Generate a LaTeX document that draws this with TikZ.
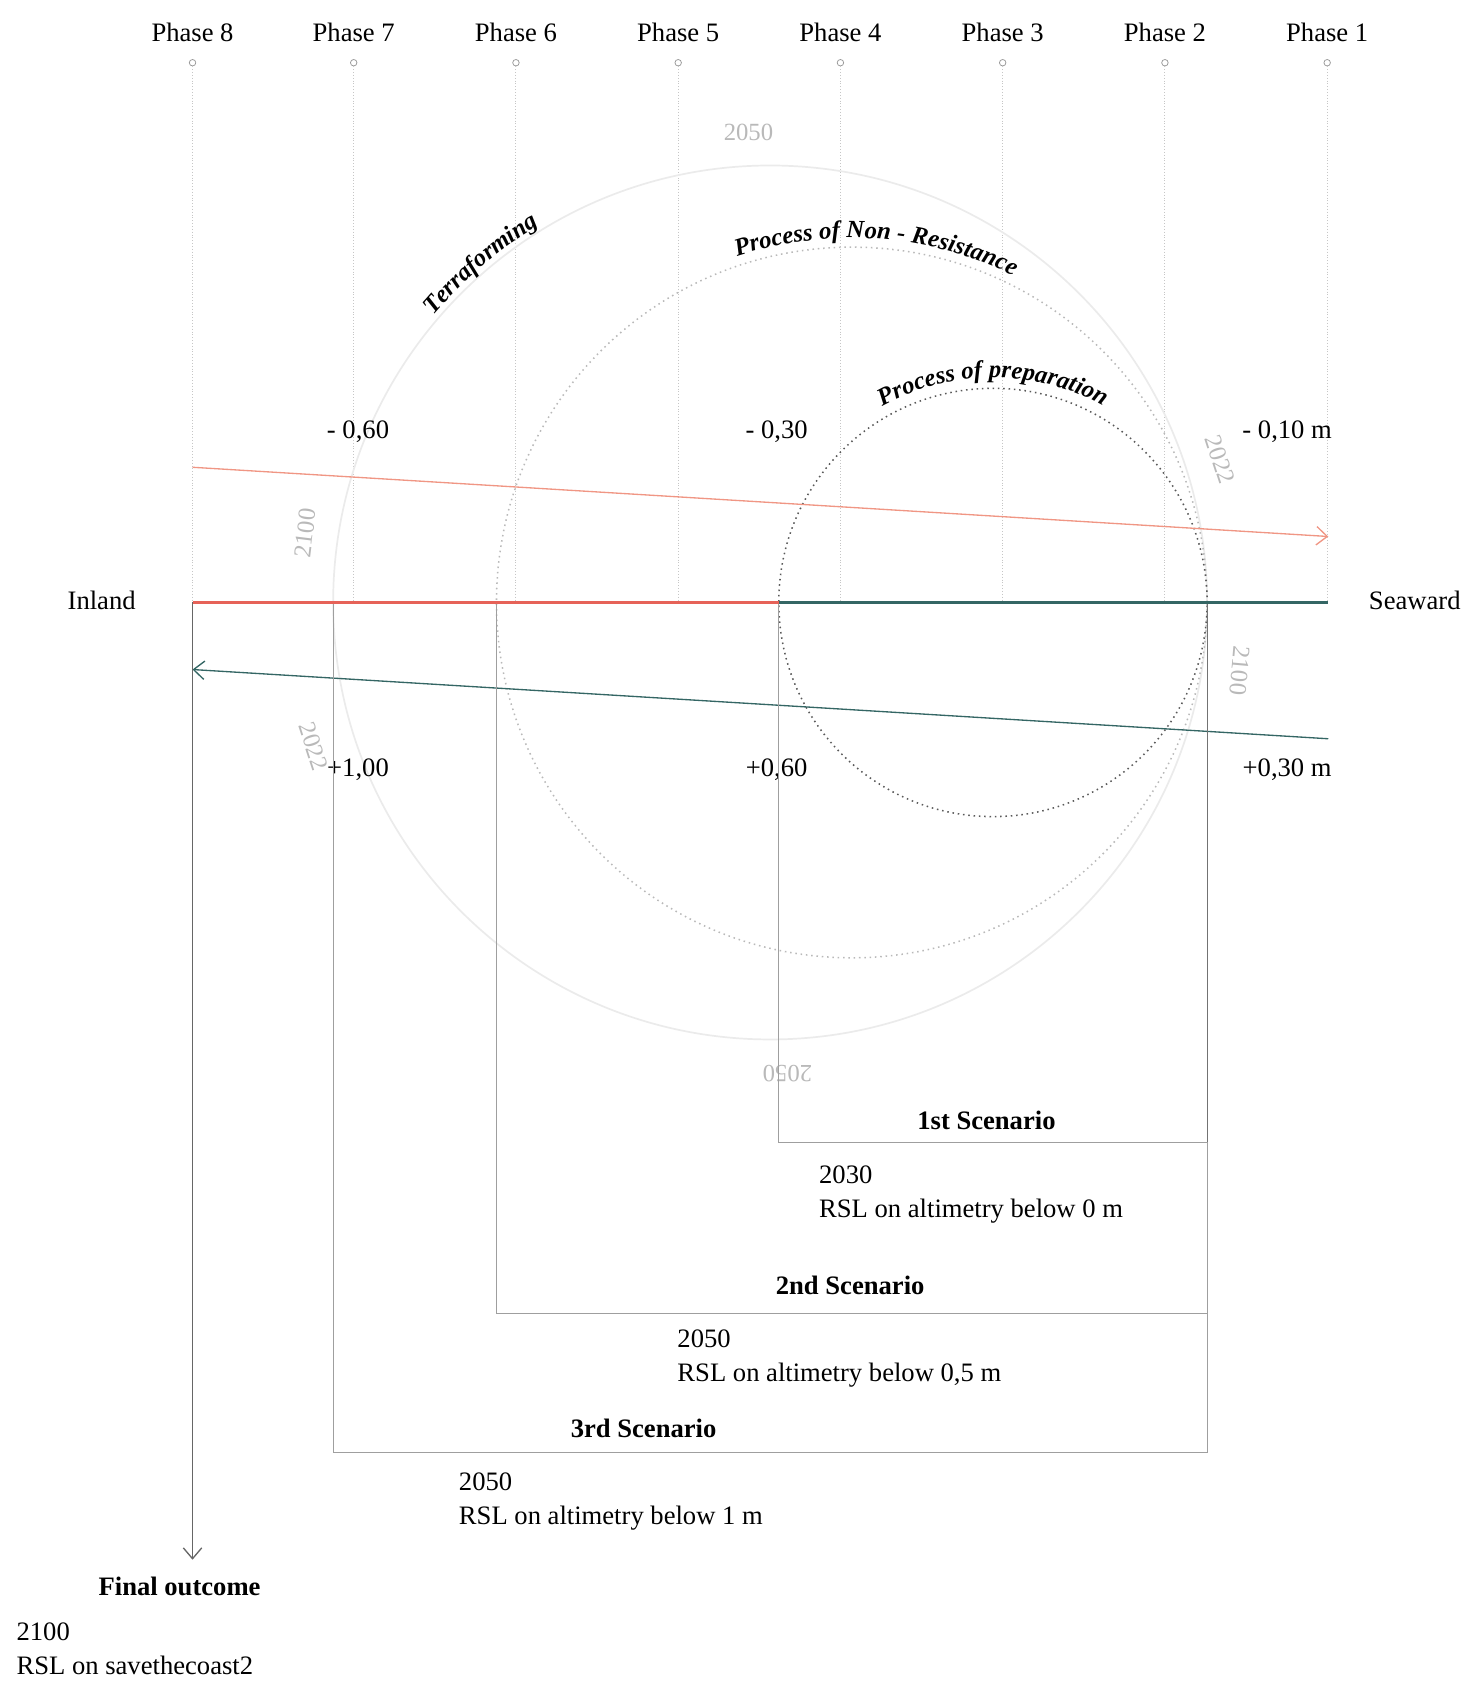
\documentclass[tikz,border=0pt]{standalone}
\usepackage{fontspec}
\setmainfont{Liberation Serif}
\usetikzlibrary{arrows.meta, decorations.text}

\definecolor{risered}{RGB}{230,98,88}
\definecolor{risesalmon}{RGB}{240,150,132}
\definecolor{retreatteal}{RGB}{52,102,100}

\begin{document}
\begin{tikzpicture}[
    x=0.2mm, y=0.2mm,
    >={Straight Barb[length=2mm, width=3.4mm]},
    txt/.style={font=\fontsize{14}{18}\selectfont, inner sep=0pt},
    phaselbl/.style={txt},
    scnlabel/.style={font=\fontsize{14}{18}\selectfont\bfseries, inner sep=0pt},
    infolbl/.style={txt, align=left, anchor=west},
    yearlbl/.style={font=\fontsize{13}{16}\selectfont, text=gray!55, inner sep=0pt},
    phasedot/.style={circle, draw=gray!80, fill=white, minimum size=1.2mm, inner sep=0pt, line width=0.4pt},
    phaseline/.style={draw=gray!45, densely dotted, line width=0.5pt},
    scnline/.style={draw=gray!75, line width=0.6pt},
    ringfar/.style={draw=black!8, line width=0.9pt},
    ringmid/.style={draw=gray!55, dotted, line width=0.8pt},
    ringnear/.style={draw=black!65, dotted, line width=0.8pt},
    curvetxt/.style={decorate, decoration={text along path, text align=center,
        text={|\fontsize{13}{16}\selectfont\bfseries\itshape|#1}}},
]
\useasboundingbox (0,0) rectangle (1366,-1568);

% ============ Baseline anchors ============
\coordinate (base_l) at (178,-557);
\coordinate (base_m) at (720,-557);
\coordinate (base_r) at (1228,-557);
\coordinate (sc_r) at (1116,-557);

% ============ Phases ============
\node[phaselbl] (ph8_lbl) at (178,-30) {Phase 8};
\node[phaselbl] (ph7_lbl) at (327,-30) {Phase 7};
\node[phaselbl] (ph6_lbl) at (477,-30) {Phase 6};
\node[phaselbl] (ph5_lbl) at (627,-30) {Phase 5};
\node[phaselbl] (ph4_lbl) at (777,-30) {Phase 4};
\node[phaselbl] (ph3_lbl) at (927,-30) {Phase 3};
\node[phaselbl] (ph2_lbl) at (1077,-30) {Phase 2};
\node[phaselbl] (ph1_lbl) at (1227,-30) {Phase 1};

\node[phasedot] (ph8) at (178,-58) {};
\node[phasedot] (ph7) at (327,-58) {};
\node[phasedot] (ph6) at (477,-58) {};
\node[phasedot] (ph5) at (627,-58) {};
\node[phasedot] (ph4) at (777,-58) {};
\node[phasedot] (ph3) at (927,-58) {};
\node[phasedot] (ph2) at (1077,-58) {};
\node[phasedot] (ph1) at (1227,-58) {};

\draw[phaseline] (ph8) -- (ph8 |- base_l);
\draw[phaseline] (ph7) -- (ph7 |- base_l);
\draw[phaseline] (ph6) -- (ph6 |- base_l);
\draw[phaseline] (ph5) -- (ph5 |- base_l);
\draw[phaseline] (ph4) -- (ph4 |- base_l);
\draw[phaseline] (ph3) -- (ph3 |- base_l);
\draw[phaseline] (ph2) -- (ph2 |- base_l);
\draw[phaseline] (ph1) -- (ph1 |- base_l);

% ============ Process rings ============
\coordinate (c_far) at (712,-557);
\coordinate (c_mid) at (787.5,-557);
\coordinate (c_near) at (918,-557);

\draw[ringfar] (c_far) circle[radius=404];
\draw[ringmid] (c_mid) circle[radius=328.5];
\draw[ringnear] (c_near) circle[radius=198];

\path[curvetxt={Terraforming}] (c_far) ++(150:409) arc[start angle=150, end angle=111, radius=409];
\path[curvetxt={Process of Non - Resistance}] (c_mid) ++(135:337) arc[start angle=135, end angle=37, radius=337];
\path[curvetxt={Process of preparation}] (c_near) ++(150:208) arc[start angle=150, end angle=30, radius=208];

\node[yearlbl] (yr_top) at (692,-122) {2050};
\node[yearlbl, rotate=180] (yr_bot) at (728,-993) {2050};
\node[yearlbl, rotate=-72] (yr_r22) at (1128,-425) {2022};
\node[yearlbl, rotate=-95] (yr_r00) at (1146,-620) {2100};
\node[yearlbl, rotate=83] (yr_l00) at (282,-493) {2100};
\node[yearlbl, rotate=-72] (yr_l22) at (290,-690) {2022};

% ============ Sea level arrows ============
\coordinate (rise_s) at (178,-432);
\coordinate (rise_e) at (1228,-496);
\coordinate (fall_s) at (1228,-683);
\coordinate (fall_e) at (178,-619);

\draw[->, draw=risesalmon, line width=0.7pt] (rise_s) -- (rise_e);
\draw[->, draw=retreatteal, line width=0.7pt] (fall_s) -- (fall_e);

\node[txt] (lv_m60) at (331,-399) {- 0,60};
\node[txt] (lv_m30) at (718,-399) {- 0,30};
\node[txt] (lv_m10) at (1190,-399) {- 0,10 m};
\node[txt] (lv_p100) at (331,-712) {+1,00};
\node[txt] (lv_p60) at (718,-712) {+0,60};
\node[txt] (lv_p30) at (1190,-712) {+0,30 m};

% ============ Scenarios ============
\coordinate (s1_l) at (720,-557);
\coordinate (s2_l) at (459,-557);
\coordinate (s3_l) at (308,-557);

\draw[scnline] (s3_l) -- ++(0,-786) -| (sc_r);
\draw[scnline] (s2_l) -- ++(0,-657) -| (sc_r);
\draw[scnline] (s1_l) -- ++(0,-499) -| (sc_r);
\draw[draw=black!55, line width=0.6pt] (sc_r) -- ++(0,-499);

\node[scnlabel] (s1_lbl) at (912,-1036) {1st Scenario};
\node[infolbl] (s1_info) at (757,-1104) {2030\\RSL on altimetry below 0 m};

\node[scnlabel] (s2_lbl) at (786,-1188) {2nd Scenario};
\node[infolbl] (s2_info) at (626,-1256) {2050\\RSL on altimetry below 0,5 m};

\node[scnlabel] (s3_lbl) at (595,-1321) {3rd Scenario};
\node[infolbl] (s3_info) at (424,-1388) {2050\\RSL on altimetry below 1 m};

% ============ Baseline and outcome ============
\draw[draw=risered, line width=1.1pt] (base_l) -- (base_m);
\draw[draw=retreatteal, line width=1.1pt] (base_m) -- (base_r);

\node[txt] (inland) at (94,-555) {Inland};
\node[txt] (seaward) at (1308,-555) {Seaward};

\coordinate (out_end) at (178,-1442);
\draw[->, draw=gray!80!black, line width=0.7pt] (base_l) -- (out_end);

\node[scnlabel] (out_lbl) at (166,-1467) {Final outcome};
\node[infolbl] (out_info) at (15,-1524) {2100\\RSL on savethecoast2};

\end{tikzpicture}
\end{document}
